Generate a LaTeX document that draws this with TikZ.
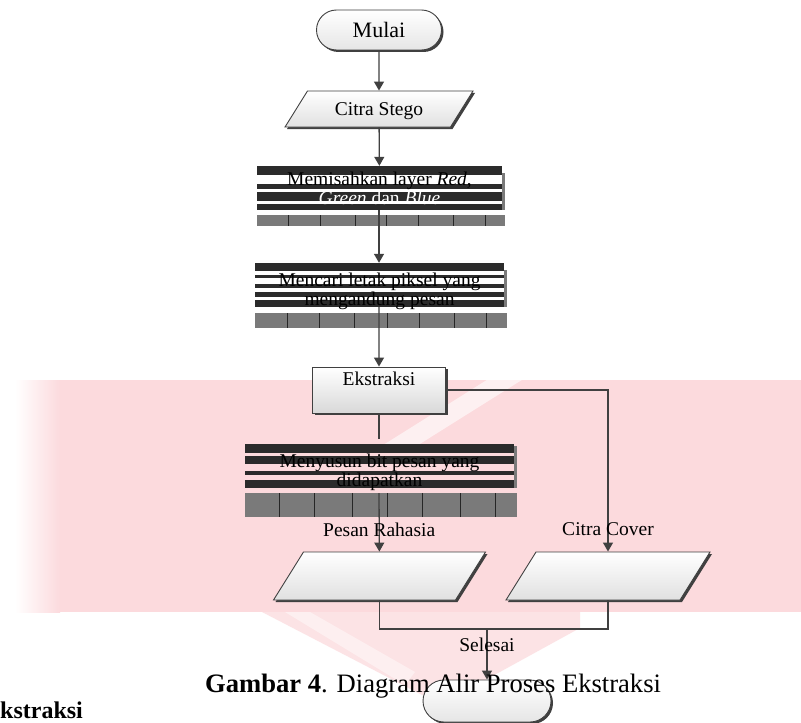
\documentclass[tikz,border=0pt]{standalone}
\usepackage{fontspec}
\setmainfont{Liberation Serif}
\usetikzlibrary{shapes.geometric, shapes.misc, arrows.meta, positioning, calc, shadows, backgrounds}

\definecolor{garis}{HTML}{404040}
\definecolor{belang}{HTML}{2B2B2B}
\definecolor{tekstur}{HTML}{7A7A7A}
\definecolor{latarpink}{RGB}{252,218,221}

\begin{document}
\begin{tikzpicture}[
  x=1pt, y=-1pt,
  font=\fontsize{19.5}{20}\selectfont,
  every node/.style={align=center},
  %% ─── gaya ────────────────────────────────────────────────
  terminal/.style={
    rounded rectangle, draw=garis, line width=0.9pt, top color=white, bottom color=black!10,
    minimum width=125pt, minimum height=40pt, inner sep=0pt,
    drop shadow={shadow xshift=2pt, shadow yshift=-2pt, fill=black!75, opacity=1}
  },
  jajar/.style={
    trapezium, trapezium left angle=58, trapezium right angle=122, trapezium stretches body,
    draw=garis, line width=0.9pt, top color=white, bottom color=black!12,
    inner sep=0pt, text height=#1, text depth=0pt,
    drop shadow={shadow xshift=2pt, shadow yshift=-2pt, fill=black!75, opacity=1}
  },
  jajar/.default=48pt,
  proses/.style={
    draw=garis, line width=0.9pt, top color=white, bottom color=black!15,
    minimum width=133pt, inner sep=4pt, text height=14pt, text depth=24pt,
    drop shadow={shadow xshift=2pt, shadow yshift=-2pt, fill=black!75, opacity=1}
  },
  stripebox/.style={
    inner sep=0pt, path picture={
      \foreach \a/\b in {#1}
        \fill[belang] ($(path picture bounding box.north west)!\a!(path picture bounding box.south west)$)
          rectangle ($(path picture bounding box.north east)!\b!(path picture bounding box.south east)$);
    }
  },
  teks2/.style={font=\fontsize{19.5}{#1}\selectfont, inner sep=0pt},
  label/.style={font=\fontsize{19.5}{20}\selectfont, inner sep=1pt},
  arr/.style={-{Triangle[length=9pt, width=10pt]}, draw=garis, line width=1.3pt},
  garisan/.style={draw=garis, line width=1.3pt}
]

  %% ─── 1. Mulai & masukan ──────────────────────────────────
  \node[terminal, font=\fontsize{22}{24}\selectfont] (mulai) at (379, 30) {Mulai};
  \node[jajar=24pt, text depth=12pt, minimum width=188pt] (stego) at (379, 109) {Citra Stego};

  %% ─── 2. proses bergaris ──────────────────────────────────
  \node[stripebox={0/0.2, 0.42/0.52, 0.58/0.8, 0.86/1}, minimum width=245pt, minimum height=44pt] (pisah) at (379.5, 188) {};
  \node[teks2=13pt] (pisah-t) at (pisah.center) {Memisahkan layer \textit{Red},\\\textcolor{white}{\textit{Green} dan \textit{Blue}}};

  \node[stripebox={0/0.18, 0.28/0.35, 0.47/0.57, 0.66/0.78, 0.84/1}, minimum width=249pt, minimum height=44pt] (cari) at (379.5, 285) {};
  \node[teks2=13pt] (cari-t) at ([yshift=-6pt]cari.center) {Mencari letak piksel yang\\mengandung pesan};

  \node[proses] (ekstrak) at (379, 390) {Ekstraksi};

  \node[stripebox={0.1/0.28, 0.35/0.5, 0.66/0.74, 0.83/1}, minimum width=269pt, minimum height=49pt] (susun) at (379.5, 463.5) {};
  \node[teks2=19pt] (susun-t) at ([yshift=-9pt]susun.center) {Menyusun bit pesan yang\\didapatkan};

  % tekstur di bawah kotak
  \foreach \n/\t/\h in {pisah/5/11, cari/6/15, susun/5/24} {
    \fill[tekstur] ([yshift=-\t pt]\n.south west) rectangle ([xshift=3pt, yshift=-\t pt-\h pt]\n.south east);
    \foreach \k in {0.13, 0.26, 0.4, 0.53, 0.66, 0.8, 0.93}
      \draw[black!85, line width=0.8pt] ($([yshift=-\t pt]\n.south west)!\k!([yshift=-\t pt]\n.south east)$) -- ++(0, \h);
    \fill[tekstur] ([yshift=-7pt]\n.north east) rectangle ([xshift=3pt]\n.south east);
  }

  %% ─── 3. keluaran & selesai ───────────────────────────────
  \node[jajar, minimum width=212pt] (pesan) at (379.5, 576) {};
  \node[jajar, minimum width=204pt] (cover) at (608, 576) {};
  \node[terminal, minimum width=128pt, minimum height=42pt] (selesai) at (487, 701) {};
  \coordinate (gabung) at (487, 629);

  %% ─── 4. penghubung ───────────────────────────────────────
  \draw[arr] (mulai) -- (stego);
  \draw[arr] (stego) -- (pisah);
  \draw[arr] (pisah.south -| stego.south) -- (cari.north -| stego.south);
  \draw[arr] (cari.south -| stego.south) -- (ekstrak);
  \draw[garisan] (ekstrak) -- (susun.north -| ekstrak.south);
  \draw[arr] ([yshift=-5pt]susun.south -| ekstrak.south) -- (pesan) node[label, pos=0.63] (lbl-pesan) {Pesan Rahasia};
  \draw[arr] (ekstrak.east) -| (cover) node[label, pos=0.93] (lbl-cover) {Citra Cover};
  \draw[garisan] (pesan.south) |- (gabung);
  \draw[garisan] (cover.south) |- (gabung);
  \draw[arr] (gabung) -- (selesai) node[label, pos=0.31] (lbl-selesai) {Selesai};

  %% ─── 5. keterangan ───────────────────────────────────────
  \node[anchor=base west, inner sep=0pt, font=\fontsize{26.6}{28}\selectfont] (judul) at (205, 692) {\textbf{Gambar 4}. Diagram Alir Proses Ekstraksi};
  \node[anchor=base west, inner sep=0pt, font=\fontsize{24}{26}\selectfont\bfseries] (sub) at (0, 718) {kstraksi};

  %% ─── 6. latar ────────────────────────────────────────────
  \begin{scope}[on background layer]
    \fill[white] (0,0) rectangle (801,722);
    \fill[latarpink] (60,380) rectangle (801,612);
    \shade[left color=white, right color=latarpink] (15,380) rectangle (60,612);
    \fill[latarpink, opacity=0.75] (262,612) -- (580,612) -- (580,628) -- (458,695) -- (422,695) -- cycle;
    \fill[white, opacity=0.45] (285,612) -- (310,612) -- (415,672) -- (405,685) -- cycle;
    \fill[white, opacity=0.6] (380,447) -- (415,447) -- (525,378) -- (490,378) -- cycle;
  \end{scope}
  \useasboundingbox (0,0) rectangle (801,722);

\end{tikzpicture}
\end{document}
